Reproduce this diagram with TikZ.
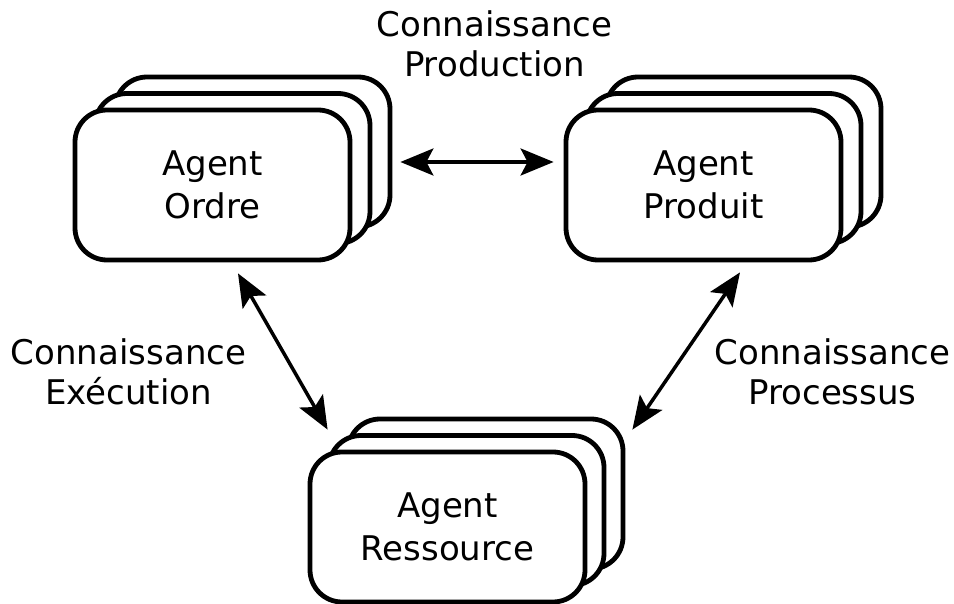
\documentclass[tikz,border=0pt]{standalone}
\usepackage{fontspec}
\setmainfont{DejaVu Sans}
\usetikzlibrary{arrows.meta,calc}
\begin{document}
\begin{tikzpicture}[x=1pt,y=-1pt,
  agent/.style={draw=black, fill=white, line width=4.8pt, rounded corners=32pt,
    minimum width=275pt, minimum height=150pt, align=center,
    font=\fontsize{34}{43}\selectfont, inner sep=0pt},
  lbl/.style={align=center, font=\fontsize{34}{39.5}\selectfont, inner sep=0pt},
  arr/.style={{Stealth[length=33pt,width=27pt,inset=7pt]}-{Stealth[length=33pt,width=27pt,inset=7pt]}, line width=3.5pt}]
\useasboundingbox (0,0) rectangle (954,604);
% Agent Ordre stack
\node[agent] (o3) at (252.5,152) {};
\node[agent] (o2) at (232.5,168.5) {};
\node[agent] (o) at (212.5,185) {Agent\\Ordre};
% Agent Produit stack
\node[agent] (p3) at (743.5,152) {};
\node[agent] (p2) at (723.5,168.5) {};
\node[agent] (p) at (703.5,185) {Agent\\Produit};
% Agent Ressource stack
\node[agent] (r3) at (485.5,494) {};
\node[agent] (r2) at (466.5,510.5) {};
\node[agent] (r) at (447.5,527) {Agent\\Ressource};
% labels
\node[lbl] (lp) at (494.5,44) {Connaissance\\Production};
\node[lbl] (le) at (128.5,372) {Connaissance\\Exécution};
\node[lbl] (lr) at (832.5,372) {Connaissance\\Processus};
% connectors
\draw[arr] ($(o3.east)+(8,10)$) -- ($(p.west)+(-10,-23)$);
\draw[arr] ($(o.south)+(25.5,11)$) -- ($(r.north west)+(20,-20)$);
\draw[arr] ($(p.south)+(36.5,10)$) -- ($(r.north east)+(45,-20)$);
\end{tikzpicture}
\end{document}
